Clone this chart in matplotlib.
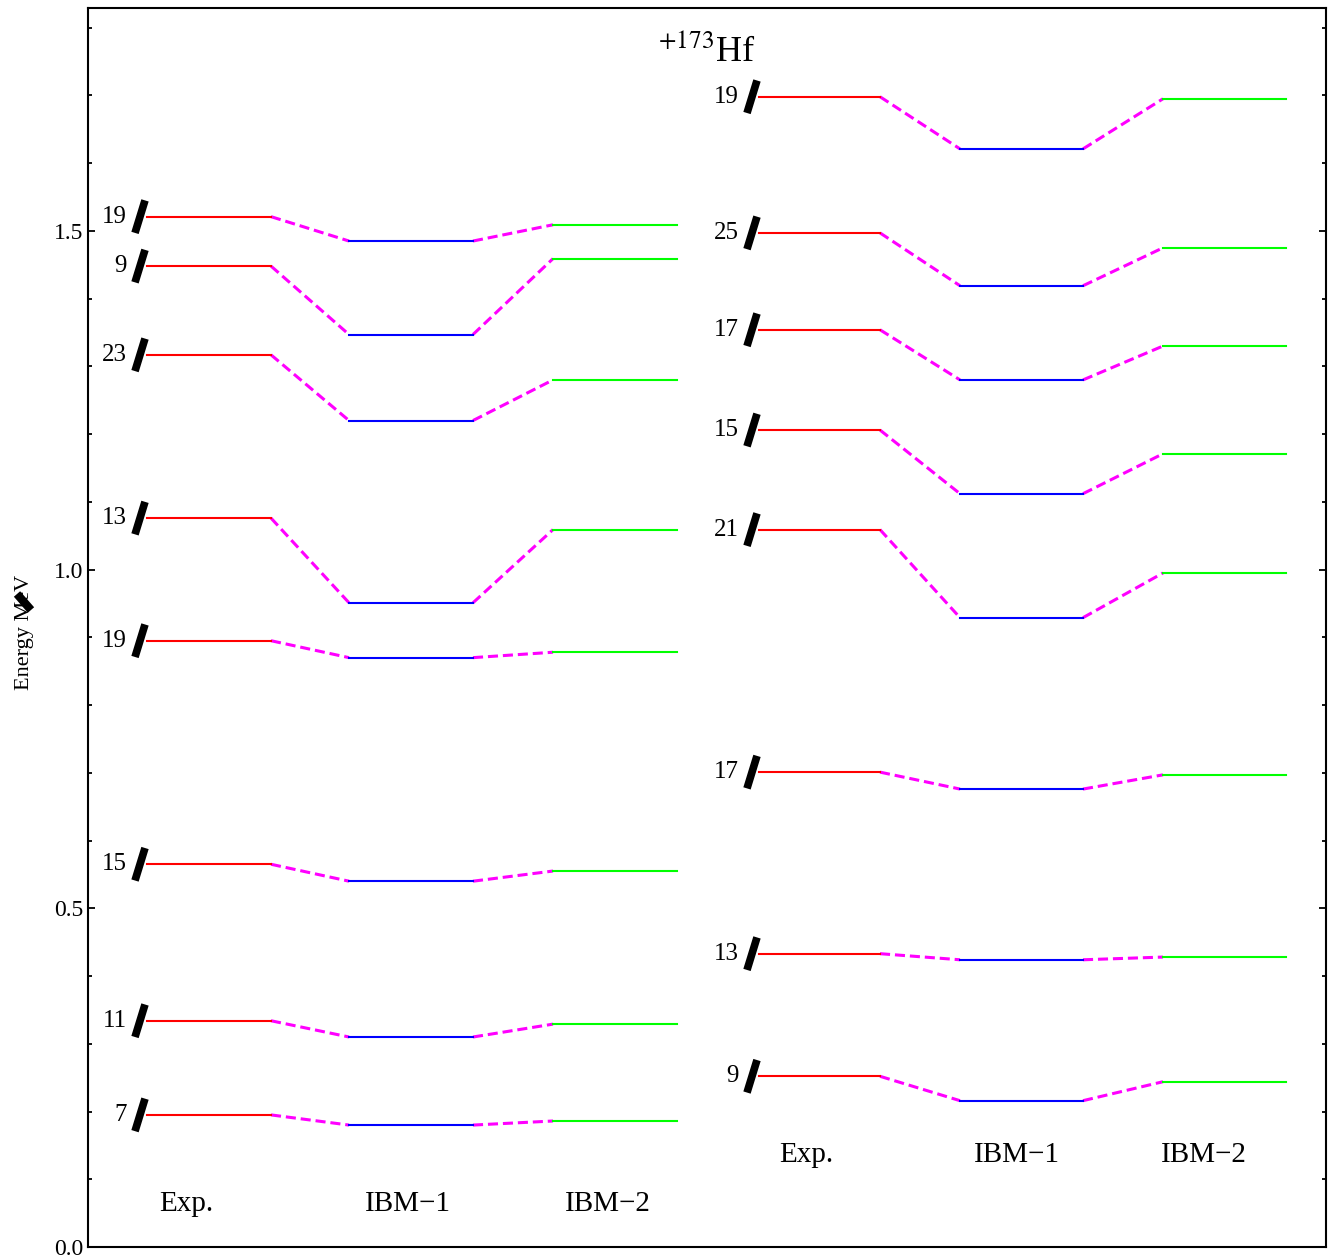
import numpy as np
import matplotlib.pyplot as plt
from matplotlib.ticker import MultipleLocator, FormatStrFormatter

plt.rcParams['font.family'] = ['Liberation Serif', 'DejaVu Serif']
plt.rcParams['mathtext.fontset'] = 'stix'

# level energies in MeV
left_spins = ['19', '9', '23', '13', '19', '15', '11', '7']
left_exp = [1.521, 1.448, 1.317, 1.076, 0.895, 0.565, 0.334, 0.195]
left_ibm1 = [1.485, 1.347, 1.220, 0.951, 0.870, 0.540, 0.310, 0.180]
left_ibm2 = [1.509, 1.459, 1.280, 1.059, 0.878, 0.555, 0.329, 0.186]

right_spins = ['19', '25', '17', '15', '21', '17', '13', '9']
right_exp = [1.698, 1.497, 1.354, 1.206, 1.059, 0.701, 0.433, 0.252]
right_ibm1 = [1.621, 1.419, 1.280, 1.112, 0.929, 0.676, 0.424, 0.216]
right_ibm2 = [1.695, 1.475, 1.330, 1.171, 0.995, 0.697, 0.428, 0.244]

columns = ['Exp.', 'IBM\u22121', 'IBM\u22122']

fig = plt.figure(figsize=(13.36, 12.6), dpi=100)
ax = fig.add_axes([88/1336, 13/1260, 1238/1336, 1239/1260])
ax.set(xlim=(0, 1238), ylim=(0, 1.829))


def draw_group(ax, spins, exp, ibm1, ibm2, spans, centers, label_y):
    cols = ['#ff0000', '#0000ff', '#00ff00']
    sets = [exp, ibm1, ibm2]
    x0 = spans[0][0]
    for k in range(len(spins)):
        for (a, b), c, vals in zip(spans, cols, sets):
            ax.plot([a, b], [vals[k], vals[k]], color=c, lw=1.5, zorder=3)
        ax.plot([spans[0][1], spans[1][0]], [exp[k], ibm1[k]], color='#ff00ff',
                lw=2.2, dashes=(3.3, 1.6), zorder=2)
        ax.plot([spans[1][1], spans[2][0]], [ibm1[k], ibm2[k]], color='#ff00ff',
                lw=2.2, dashes=(3.3, 1.6), zorder=2)
        ax.text(x0 - 20, exp[k], spins[k], ha='right', va='center', fontsize=18)
        ax.plot([x0 - 12, x0 - 2], [exp[k] - 0.024, exp[k] + 0.024], color='black',
                lw=5.5, solid_capstyle='butt', zorder=4)
    for cx, name in zip(centers, columns):
        ax.text(cx, label_y, name, ha='center', va='center', fontsize=21)


draw_group(ax, left_spins, left_exp, left_ibm1, left_ibm2,
           [(59, 183), (261, 385), (465, 589)], [98, 320, 520], 0.0635)
draw_group(ax, right_spins, right_exp, right_ibm1, right_ibm2,
           [(671, 792), (872, 995), (1075, 1198)], [718, 929, 1116], 0.136)

ax.text(619, 1.765, r'$^{+173}$Hf', ha='center', va='center', fontsize=26)

ax.yaxis.set_major_locator(MultipleLocator(0.5))
ax.yaxis.set_minor_locator(MultipleLocator(0.1))
ax.yaxis.set_major_formatter(FormatStrFormatter('%.1f'))
ax.set_xticks([])
ax.tick_params(axis='y', which='both', direction='in', left=True, right=True,
               labelsize=17, width=1.3)
ax.tick_params(axis='y', which='major', length=5)
ax.tick_params(axis='y', which='minor', length=3)
for s in ax.spines.values():
    s.set_linewidth(1.5)

fig.text(24/1336, 1 - 632/1260, 'Energy MeV', rotation=90, ha='center', va='center',
         fontsize=16)
fig.add_artist(plt.Line2D([17/1336, 31/1336], [1 - 594/1260, 1 - 610/1260],
                          color='black', lw=6, solid_capstyle='butt'))

fig.savefig('out.png', dpi=100)
